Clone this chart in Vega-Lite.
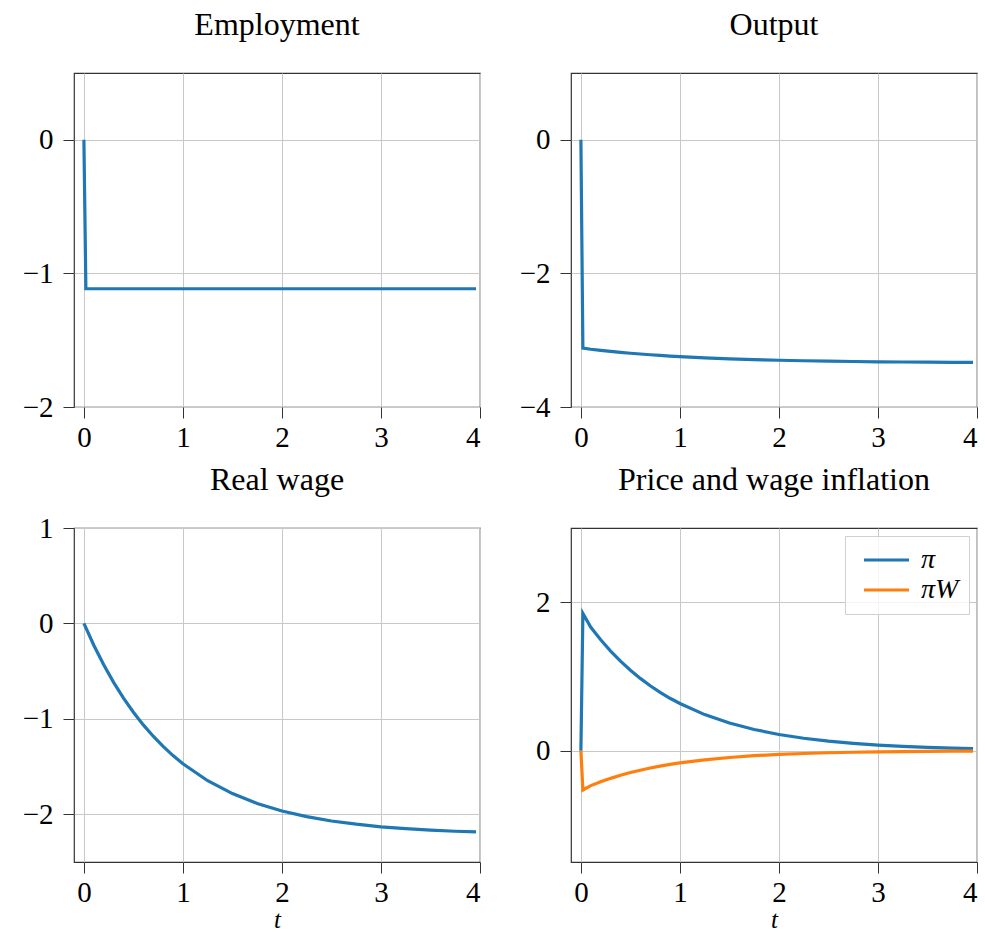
{
  "$schema": "https://vega.github.io/schema/vega-lite/v6.json",
  "background": "white",
  "padding": {"left": 21, "top": 8, "right": 5, "bottom": 5},
  "columns": 2,
  "spacing": {"row": 121, "column": 91},
  "bounds": "flush",
  "resolve": {"scale": {"color": "independent"}, "legend": {"color": "independent"}},
  "datasets": {
    "emp": [
      {"t": 0, "v": 0}, {"t": 0.02, "v": -1.115}, {"t": 3.96, "v": -1.115}
    ],
    "out": [
      {"t": 0, "v": 0}, {"t": 0.02, "v": -3.117}, {"t": 0.1, "v": -3.135}, {"t": 0.2, "v": -3.152},
      {"t": 0.3, "v": -3.168}, {"t": 0.4, "v": -3.182}, {"t": 0.5, "v": -3.195}, {"t": 0.6, "v": -3.207},
      {"t": 0.7, "v": -3.218}, {"t": 0.8, "v": -3.228}, {"t": 0.9, "v": -3.237}, {"t": 1.0, "v": -3.246},
      {"t": 1.25, "v": -3.264}, {"t": 1.5, "v": -3.279}, {"t": 1.75, "v": -3.29}, {"t": 2.0, "v": -3.3},
      {"t": 2.25, "v": -3.308}, {"t": 2.5, "v": -3.314}, {"t": 2.75, "v": -3.319}, {"t": 3.0, "v": -3.323},
      {"t": 3.25, "v": -3.326}, {"t": 3.5, "v": -3.329}, {"t": 3.75, "v": -3.331}, {"t": 3.96, "v": -3.333}
    ],
    "wage": [
      {"t": 0, "v": 0}, {"t": 0.1, "v": -0.229}, {"t": 0.2, "v": -0.434}, {"t": 0.3, "v": -0.618},
      {"t": 0.4, "v": -0.783}, {"t": 0.5, "v": -0.931}, {"t": 0.6, "v": -1.063}, {"t": 0.7, "v": -1.182},
      {"t": 0.8, "v": -1.289}, {"t": 0.9, "v": -1.385}, {"t": 1.0, "v": -1.47}, {"t": 1.25, "v": -1.648},
      {"t": 1.5, "v": -1.783}, {"t": 1.75, "v": -1.886}, {"t": 2.0, "v": -1.965}, {"t": 2.25, "v": -2.024},
      {"t": 2.5, "v": -2.07}, {"t": 2.75, "v": -2.104}, {"t": 3.0, "v": -2.131}, {"t": 3.25, "v": -2.151},
      {"t": 3.5, "v": -2.166}, {"t": 3.75, "v": -2.178}, {"t": 3.96, "v": -2.185}
    ],
    "infl": [
      {"s": "π", "t": 0, "v": 0}, {"s": "π", "t": 0.02, "v": 1.85}, {"s": "π", "t": 0.1, "v": 1.662},
      {"s": "π", "t": 0.2, "v": 1.494}, {"s": "π", "t": 0.3, "v": 1.342}, {"s": "π", "t": 0.4, "v": 1.206},
      {"s": "π", "t": 0.5, "v": 1.084}, {"s": "π", "t": 0.6, "v": 0.974}, {"s": "π", "t": 0.7, "v": 0.875},
      {"s": "π", "t": 0.8, "v": 0.786}, {"s": "π", "t": 0.9, "v": 0.706}, {"s": "π", "t": 1.0, "v": 0.635},
      {"s": "π", "t": 1.25, "v": 0.486}, {"s": "π", "t": 1.5, "v": 0.372}, {"s": "π", "t": 1.75, "v": 0.285},
      {"s": "π", "t": 2.0, "v": 0.218}, {"s": "π", "t": 2.25, "v": 0.167}, {"s": "π", "t": 2.5, "v": 0.128},
      {"s": "π", "t": 2.75, "v": 0.098}, {"s": "π", "t": 3.0, "v": 0.075}, {"s": "π", "t": 3.25, "v": 0.057},
      {"s": "π", "t": 3.5, "v": 0.044}, {"s": "π", "t": 3.75, "v": 0.033}, {"s": "π", "t": 3.96, "v": 0.027},
      {"s": "πW", "t": 0, "v": 0}, {"s": "πW", "t": 0.02, "v": -0.53}, {"s": "πW", "t": 0.1, "v": -0.471},
      {"s": "πW", "t": 0.2, "v": -0.419}, {"s": "πW", "t": 0.3, "v": -0.373}, {"s": "πW", "t": 0.4, "v": -0.332},
      {"s": "πW", "t": 0.5, "v": -0.295}, {"s": "πW", "t": 0.6, "v": -0.263}, {"s": "πW", "t": 0.7, "v": -0.234},
      {"s": "πW", "t": 0.8, "v": -0.208}, {"s": "πW", "t": 0.9, "v": -0.185}, {"s": "πW", "t": 1.0, "v": -0.165},
      {"s": "πW", "t": 1.25, "v": -0.123}, {"s": "πW", "t": 1.5, "v": -0.092}, {"s": "πW", "t": 1.75, "v": -0.068},
      {"s": "πW", "t": 2.0, "v": -0.051}, {"s": "πW", "t": 2.25, "v": -0.038}, {"s": "πW", "t": 2.5, "v": -0.028},
      {"s": "πW", "t": 2.75, "v": -0.021}, {"s": "πW", "t": 3.0, "v": -0.016}, {"s": "πW", "t": 3.25, "v": -0.012},
      {"s": "πW", "t": 3.5, "v": -0.009}, {"s": "πW", "t": 3.75, "v": -0.007}, {"s": "πW", "t": 3.96, "v": -0.005}
    ]
  },
  "concat": [
    {
      "title": {"text": "Employment"},
      "width": 406, "height": 334,
      "data": {"name": "emp"},
      "mark": {"type": "line", "strokeWidth": 3.2, "color": "#1f77b4"},
      "encoding": {
        "x": {"field": "t", "type": "quantitative", "scale": {"domain": [-0.1, 4], "nice": false, "zero": false}, "axis": {"values": [0, 1, 2, 3, 4], "title": null}},
        "y": {"field": "v", "type": "quantitative", "scale": {"domain": [-2, 0.5], "nice": false, "zero": false}, "axis": {"values": [-2, -1, 0], "title": null}}
      }
    },
    {
      "title": {"text": "Output"},
      "width": 406, "height": 334,
      "data": {"name": "out"},
      "mark": {"type": "line", "strokeWidth": 3.2, "color": "#1f77b4"},
      "encoding": {
        "x": {"field": "t", "type": "quantitative", "scale": {"domain": [-0.1, 4], "nice": false, "zero": false}, "axis": {"values": [0, 1, 2, 3, 4], "title": null}},
        "y": {"field": "v", "type": "quantitative", "scale": {"domain": [-4, 1], "nice": false, "zero": false}, "axis": {"values": [-4, -2, 0], "title": null}}
      }
    },
    {
      "title": {"text": "Real wage", "offset": 17},
      "width": 406, "height": 334,
      "data": {"name": "wage"},
      "mark": {"type": "line", "strokeWidth": 3.2, "color": "#1f77b4"},
      "encoding": {
        "x": {"field": "t", "type": "quantitative", "scale": {"domain": [-0.1, 4], "nice": false, "zero": false}, "axis": {"values": [0, 1, 2, 3, 4], "title": "t"}},
        "y": {"field": "v", "type": "quantitative", "scale": {"domain": [-2.5, 1], "nice": false, "zero": false}, "axis": {"values": [-2, -1, 0, 1], "title": null}}
      }
    },
    {
      "title": {"text": "Price and wage inflation"},
      "width": 406, "height": 334,
      "data": {"name": "infl"},
      "mark": {"type": "line", "strokeWidth": 3.2},
      "encoding": {
        "x": {"field": "t", "type": "quantitative", "scale": {"domain": [-0.1, 4], "nice": false, "zero": false}, "axis": {"values": [0, 1, 2, 3, 4], "title": "t"}},
        "y": {"field": "v", "type": "quantitative", "scale": {"domain": [-1.5, 3], "nice": false, "zero": false}, "axis": {"values": [0, 2], "title": null}},
        "color": {
          "field": "s", "type": "nominal",
          "scale": {"domain": ["π", "πW"], "range": ["#1f77b4", "#ff7f0e"]},
          "legend": {
            "title": null, "orient": "top-right", "offset": 8, "padding": 10,
            "strokeColor": "#d0d0d0", "fillColor": "rgba(255,255,255,0.8)",
            "symbolType": "M-1,0H8", "symbolSize": 100, "symbolStrokeWidth": 3.2,
            "labelFontSize": 28, "labelFontStyle": "italic", "labelFont": "Liberation Serif",
            "labelOffset": 38, "rowPadding": 2, "labelColor": "#000"
          }
        }
      }
    }
  ],
  "config": {
    "font": "Liberation Serif",
    "view": {"stroke": "#333333", "strokeWidth": 1.2},
    "axis": {
      "domain": false, "grid": true, "gridColor": "#c8c8c8", "gridWidth": 1,
      "tickColor": "#333333", "tickSize": 11, "tickWidth": 1,
      "labelFont": "Liberation Serif", "labelFontSize": 29, "labelColor": "#000000",
      "titleFont": "Liberation Serif", "titleFontSize": 25, "titleFontStyle": "italic", "titleFontWeight": "normal",
      "titleColor": "#000000", "titlePadding": 0
    },
    "axisX": {"labelPadding": 5},
    "axisY": {"labelPadding": 10},
    "title": {"font": "Liberation Serif", "fontSize": 32, "fontWeight": "normal", "color": "#000000", "baseline": "alphabetic", "offset": 31, "anchor": "middle"}
  }
}
